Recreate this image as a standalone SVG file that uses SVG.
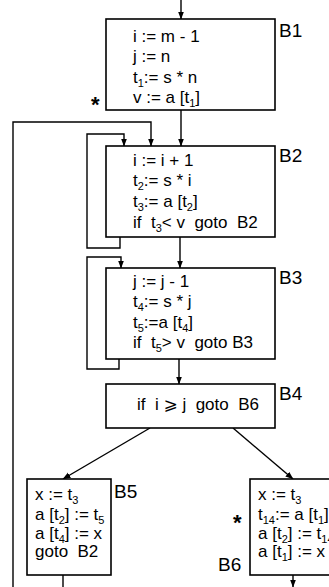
<svg xmlns="http://www.w3.org/2000/svg" width="329" height="587" viewBox="0 0 329 587" xml:space="preserve">
<defs>
<marker id="ah" viewBox="0 0 8 8" refX="7.5" refY="4" markerWidth="8" markerHeight="8" markerUnits="userSpaceOnUse" orient="auto">
<path d="M0,1 L8,4 L0,7 Z" fill="#000"/>
</marker>
<style>
.box{fill:#fff;stroke:#000;stroke-width:1.6}
.ln{fill:none;stroke:#000;stroke-width:1.4}
.arr{fill:none;stroke:#000;stroke-width:1.4;marker-end:url(#ah)}
text{font-family:"Liberation Sans",Arial,"DejaVu Sans",sans-serif;font-size:17px;fill:#000;white-space:pre}
.lab{font-size:19px}
.star{font-size:22px;font-weight:bold}
.sub{font-size:11px}
</style>
</defs>
<rect width="329" height="587" fill="#fff"/>
<g id="connectors">
<line class="arr" x1="181" y1="0" x2="181" y2="19"/>
<line class="arr" x1="181" y1="110" x2="181" y2="146"/>
<polyline class="arr" points="13,587 13,122 151,122 151,146"/>
<polyline class="arr" points="120,237 120,248 87,248 87,134 124,134 124,146"/>
<line class="arr" x1="180" y1="237" x2="180" y2="268"/>
<polyline class="arr" points="119,359 119,369 87,369 87,257 121,257 121,268"/>
<line class="arr" x1="179" y1="359" x2="179" y2="384"/>
<line class="arr" x1="150" y1="428" x2="63" y2="479"/>
<line class="arr" x1="233" y1="428" x2="293" y2="479"/>
<line class="ln" x1="63" y1="575" x2="63" y2="587"/>
<line class="arr" x1="293" y1="575" x2="293" y2="587"/>
</g>
<g id="B1">
<rect class="box" x="106" y="19" width="169" height="91"/>
<text class="lab" x="279" y="37">B1</text>
<text x="133" y="42">i := m - 1</text>
<text x="133" y="62">j := n</text>
<text x="133" y="83">t<tspan class="sub" dy="4">1</tspan><tspan dy="-4">:= s * n</tspan></text>
<text x="133" y="103">v := a [t<tspan class="sub" dy="4">1</tspan><tspan dy="-4">]</tspan></text>
<text class="star" x="91" y="112">*</text>
</g>
<g id="B2">
<rect class="box" x="106" y="146" width="169" height="91"/>
<text class="lab" x="279" y="162">B2</text>
<text x="133" y="166">i := i + 1</text>
<text x="133" y="186">t<tspan class="sub" dy="4">2</tspan><tspan dy="-4">:= s * i</tspan></text>
<text x="133" y="207">t<tspan class="sub" dy="4">3</tspan><tspan dy="-4">:= a [t</tspan><tspan class="sub" dy="4">2</tspan><tspan dy="-4">]</tspan></text>
<text x="133" y="228">if  t<tspan class="sub" dy="4">3</tspan><tspan dy="-4">&lt; v  goto  B2</tspan></text>
</g>
<g id="B3">
<rect class="box" x="106" y="268" width="169" height="91"/>
<text class="lab" x="279" y="284">B3</text>
<text x="133" y="287">j := j - 1</text>
<text x="133" y="307">t<tspan class="sub" dy="4">4</tspan><tspan dy="-4">:= s * j</tspan></text>
<text x="133" y="328">t<tspan class="sub" dy="4">5</tspan><tspan dy="-4">:=a [t</tspan><tspan class="sub" dy="4">4</tspan><tspan dy="-4">]</tspan></text>
<text x="133" y="348">if  t<tspan class="sub" dy="4">5</tspan><tspan dy="-4">&gt; v  goto B3</tspan></text>
</g>
<g id="B4">
<rect class="box" x="106" y="384" width="169" height="44"/>
<text class="lab" x="279" y="400">B4</text>
<text x="137" y="410">if  i ⩾ j  goto  B6</text>
</g>
<g id="B5">
<rect class="box" x="27" y="479" width="84" height="96"/>
<text class="lab" x="114" y="498">B5</text>
<text x="35" y="500">x := t<tspan class="sub" dy="4">3</tspan></text>
<text x="35" y="520">a [t<tspan class="sub" dy="4">2</tspan><tspan dy="-4">] := t</tspan><tspan class="sub" dy="4">5</tspan></text>
<text x="35" y="539">a [t<tspan class="sub" dy="4">4</tspan><tspan dy="-4">] := x</tspan></text>
<text x="35" y="557">goto  B2</text>
</g>
<g id="B6">
<rect class="box" x="250" y="479" width="100" height="96"/>
<text class="lab" x="218" y="571">B6</text>
<text class="star" x="233" y="530">*</text>
<text x="258" y="500">x := t<tspan class="sub" dy="4">3</tspan></text>
<text x="258" y="520">t<tspan class="sub" dy="4">14</tspan><tspan dy="-4">:= a [t</tspan><tspan class="sub" dy="4">1</tspan><tspan dy="-4">]</tspan></text>
<text x="258" y="539">a [t<tspan class="sub" dy="4">2</tspan><tspan dy="-4">] := t</tspan><tspan class="sub" dy="4">14</tspan></text>
<text x="258" y="557">a [t<tspan class="sub" dy="4">1</tspan><tspan dy="-4">] := x</tspan></text>
</g>
</svg>
